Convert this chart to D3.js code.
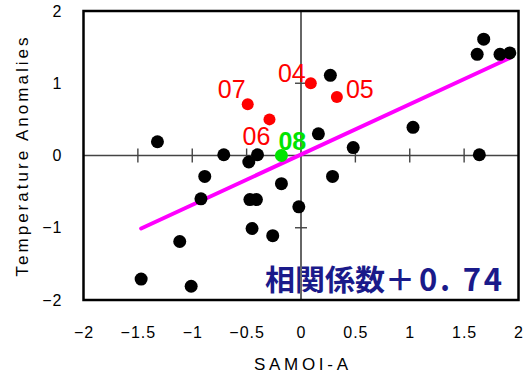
<!DOCTYPE html>
<html>
<head>
<meta charset="utf-8">
<script src="https://cdn.jsdelivr.net/npm/d3@7"></script>
<style>
  body { margin: 0; background: #fff; }
  svg { display: block; }
</style>
</head>
<body>
<div id="chart"></div>
<script>
// --- data ---
var xTicks = [-2, -1.5, -1, -0.5, 0, 0.5, 1, 1.5, 2];
var yTicks = [-2, -1, 0, 1, 2];
var innerXTicks = [-1.5, -1, -0.5, 0.5, 1, 1.5];
var innerYTicks = [-1, 1];

var blackX = [-1.32, -0.71, -0.885, -0.92, -1.115, -1.47, -1.01, -0.18, -0.47, -0.41, -0.45, -0.26, -0.02,
              0.29, 0.27, 0.16, 0.48, -0.40, -0.48, 1.68, 1.62, 1.83, 1.92, 1.03, 1.64];
var blackY = [0.19, 0.01, -0.29, -0.60, -1.19, -1.71, -1.81, -0.39, -0.61, -0.61, -1.01, -1.11, -0.71,
              -0.29, 1.11, 0.30, 0.11, 0.01, -0.09, 1.61, 1.40, 1.40, 1.42, 0.39, 0.01];

var redX = [0.09, 0.33, -0.29, -0.49];
var redY = [1.00, 0.81, 0.50, 0.71];
var redLabels = ["04", "05", "06", "07"];

var greenX = [-0.18];
var greenY = [0.0];
var greenLabels = ["08"];

var fitX = [-1.47, 1.92];
var fitY = [-1.01, 1.35];

var xTitle = "SAMOI-A";
var yTitle = "Temperature Anomalies";
var corrLabel = "相関係数＋";
var corrValue = "0. 74";

// --- layout ---
var W = 524, H = 376;
var svg = d3.select("#chart").append("svg").attr("width", W).attr("height", H);

var x = d3.scaleLinear().domain([-2, 2]).range([83.5, 518.5]);
var y = d3.scaleLinear().domain([-2, 2]).range([300, 11]);
var font = "'Liberation Sans', Arial, sans-serif";

// correlation text (under the axes lines)
var corr = svg.append("text")
    .attr("y", 291)
    .attr("font-family", "'Noto Sans CJK JP', sans-serif")
    .attr("font-weight", "bold")
    .attr("fill", "#1a1a8a");
corr.append("tspan").attr("x", 265).attr("font-size", 29)
    .attr("textLength", 150).attr("lengthAdjust", "spacingAndGlyphs")
    .text(corrLabel);
corr.append("tspan").attr("x", 419).attr("font-size", 31)
    .attr("textLength", 83).attr("lengthAdjust", "spacing")
    .text(corrValue);

// inner zero axes
svg.append("line")
    .attr("x1", x(-2)).attr("x2", x(2)).attr("y1", y(0)).attr("y2", y(0))
    .attr("stroke", "#444").attr("stroke-width", 1.6);
svg.selectAll(".xt").data(innerXTicks).enter().append("line")
    .attr("x1", d => x(d)).attr("x2", d => x(d))
    .attr("y1", y(0) - 7).attr("y2", y(0) + 7)
    .attr("stroke", "#444").attr("stroke-width", 1.4);

svg.append("line")
    .attr("x1", x(0)).attr("x2", x(0)).attr("y1", y(2)).attr("y2", y(-2))
    .attr("stroke", "#666").attr("stroke-width", 2);
svg.selectAll(".yt").data(innerYTicks).enter().append("line")
    .attr("x1", x(0) - 6).attr("x2", x(0) + 6)
    .attr("y1", d => y(d)).attr("y2", d => y(d))
    .attr("stroke", "#444").attr("stroke-width", 1.4);

// regression line
svg.append("path")
    .datum(d3.zip(fitX, fitY))
    .attr("d", d3.line().x(d => x(d[0])).y(d => y(d[1])))
    .attr("stroke", "#ff00ff").attr("stroke-width", 4).attr("fill", "none")
    .attr("stroke-linecap", "round");

// points
svg.selectAll(".blk").data(d3.zip(blackX, blackY)).enter().append("circle")
    .attr("cx", d => x(d[0])).attr("cy", d => y(d[1])).attr("r", 6.5)
    .attr("fill", "#000");

svg.selectAll(".red").data(d3.zip(redX, redY)).enter().append("circle")
    .attr("cx", d => x(d[0])).attr("cy", d => y(d[1])).attr("r", 6)
    .attr("fill", "#ff0000");

svg.selectAll(".grn").data(d3.zip(greenX, greenY)).enter().append("circle")
    .attr("cx", d => x(d[0])).attr("cy", d => y(d[1])).attr("r", 6.5)
    .attr("fill", "#00e400");

// point labels (offsets in px from the point)
var labelOffset = {"04": [-5, -1, "end"], "05": [9, 1, "start"], "06": [-13, 26, "middle"], "07": [-16, -6, "middle"]};
svg.selectAll(".rl").data(d3.range(redX.length)).enter().append("text")
    .attr("x", i => x(redX[i]) + labelOffset[redLabels[i]][0])
    .attr("y", i => y(redY[i]) + labelOffset[redLabels[i]][1])
    .attr("text-anchor", i => labelOffset[redLabels[i]][2])
    .attr("font-family", font).attr("font-size", 25)
    .attr("fill", "#ff0000")
    .text(i => redLabels[i]);

svg.selectAll(".gl").data(d3.range(greenX.length)).enter().append("text")
    .attr("x", i => x(greenX[i]) - 3)
    .attr("y", i => y(greenY[i]) - 6)
    .attr("font-family", font).attr("font-size", 25).attr("font-weight", "bold")
    .attr("fill", "#00e400")
    .text(i => greenLabels[i]);

// frame
svg.append("rect")
    .attr("x", x(-2)).attr("y", y(2))
    .attr("width", x(2) - x(-2)).attr("height", y(-2) - y(2))
    .attr("fill", "none").attr("stroke", "#000").attr("stroke-width", 2.5);

// outer tick labels
var fmt = d3.format("");
var xAxis = svg.append("g").attr("transform", "translate(0," + y(-2) + ")")
    .call(d3.axisBottom(x).tickValues(xTicks).tickSize(0).tickPadding(38).tickFormat(fmt));
xAxis.select(".domain").remove();
xAxis.selectAll("text").attr("font-family", font).attr("font-size", 16)
    .attr("letter-spacing", "1px").attr("dy", 0).attr("fill", "#000");

var yAxis = svg.append("g").attr("transform", "translate(" + x(-2) + ",0)")
    .call(d3.axisLeft(y).tickValues(yTicks).tickSize(0).tickPadding(21).tickFormat(fmt));
yAxis.select(".domain").remove();
yAxis.selectAll("text").attr("font-family", font).attr("font-size", 16)
    .attr("letter-spacing", "1px").attr("fill", "#000");

// axis titles
svg.append("text")
    .attr("x", x(0)).attr("y", 370).attr("text-anchor", "middle")
    .attr("font-family", font).attr("font-size", 17)
    .attr("textLength", 94).attr("lengthAdjust", "spacing")
    .text(xTitle);

svg.append("text")
    .attr("transform", "translate(28,157) rotate(-90)")
    .attr("text-anchor", "middle")
    .attr("font-family", font).attr("font-size", 17)
    .attr("textLength", 239).attr("lengthAdjust", "spacing")
    .text(yTitle);
</script>
</body>
</html>
